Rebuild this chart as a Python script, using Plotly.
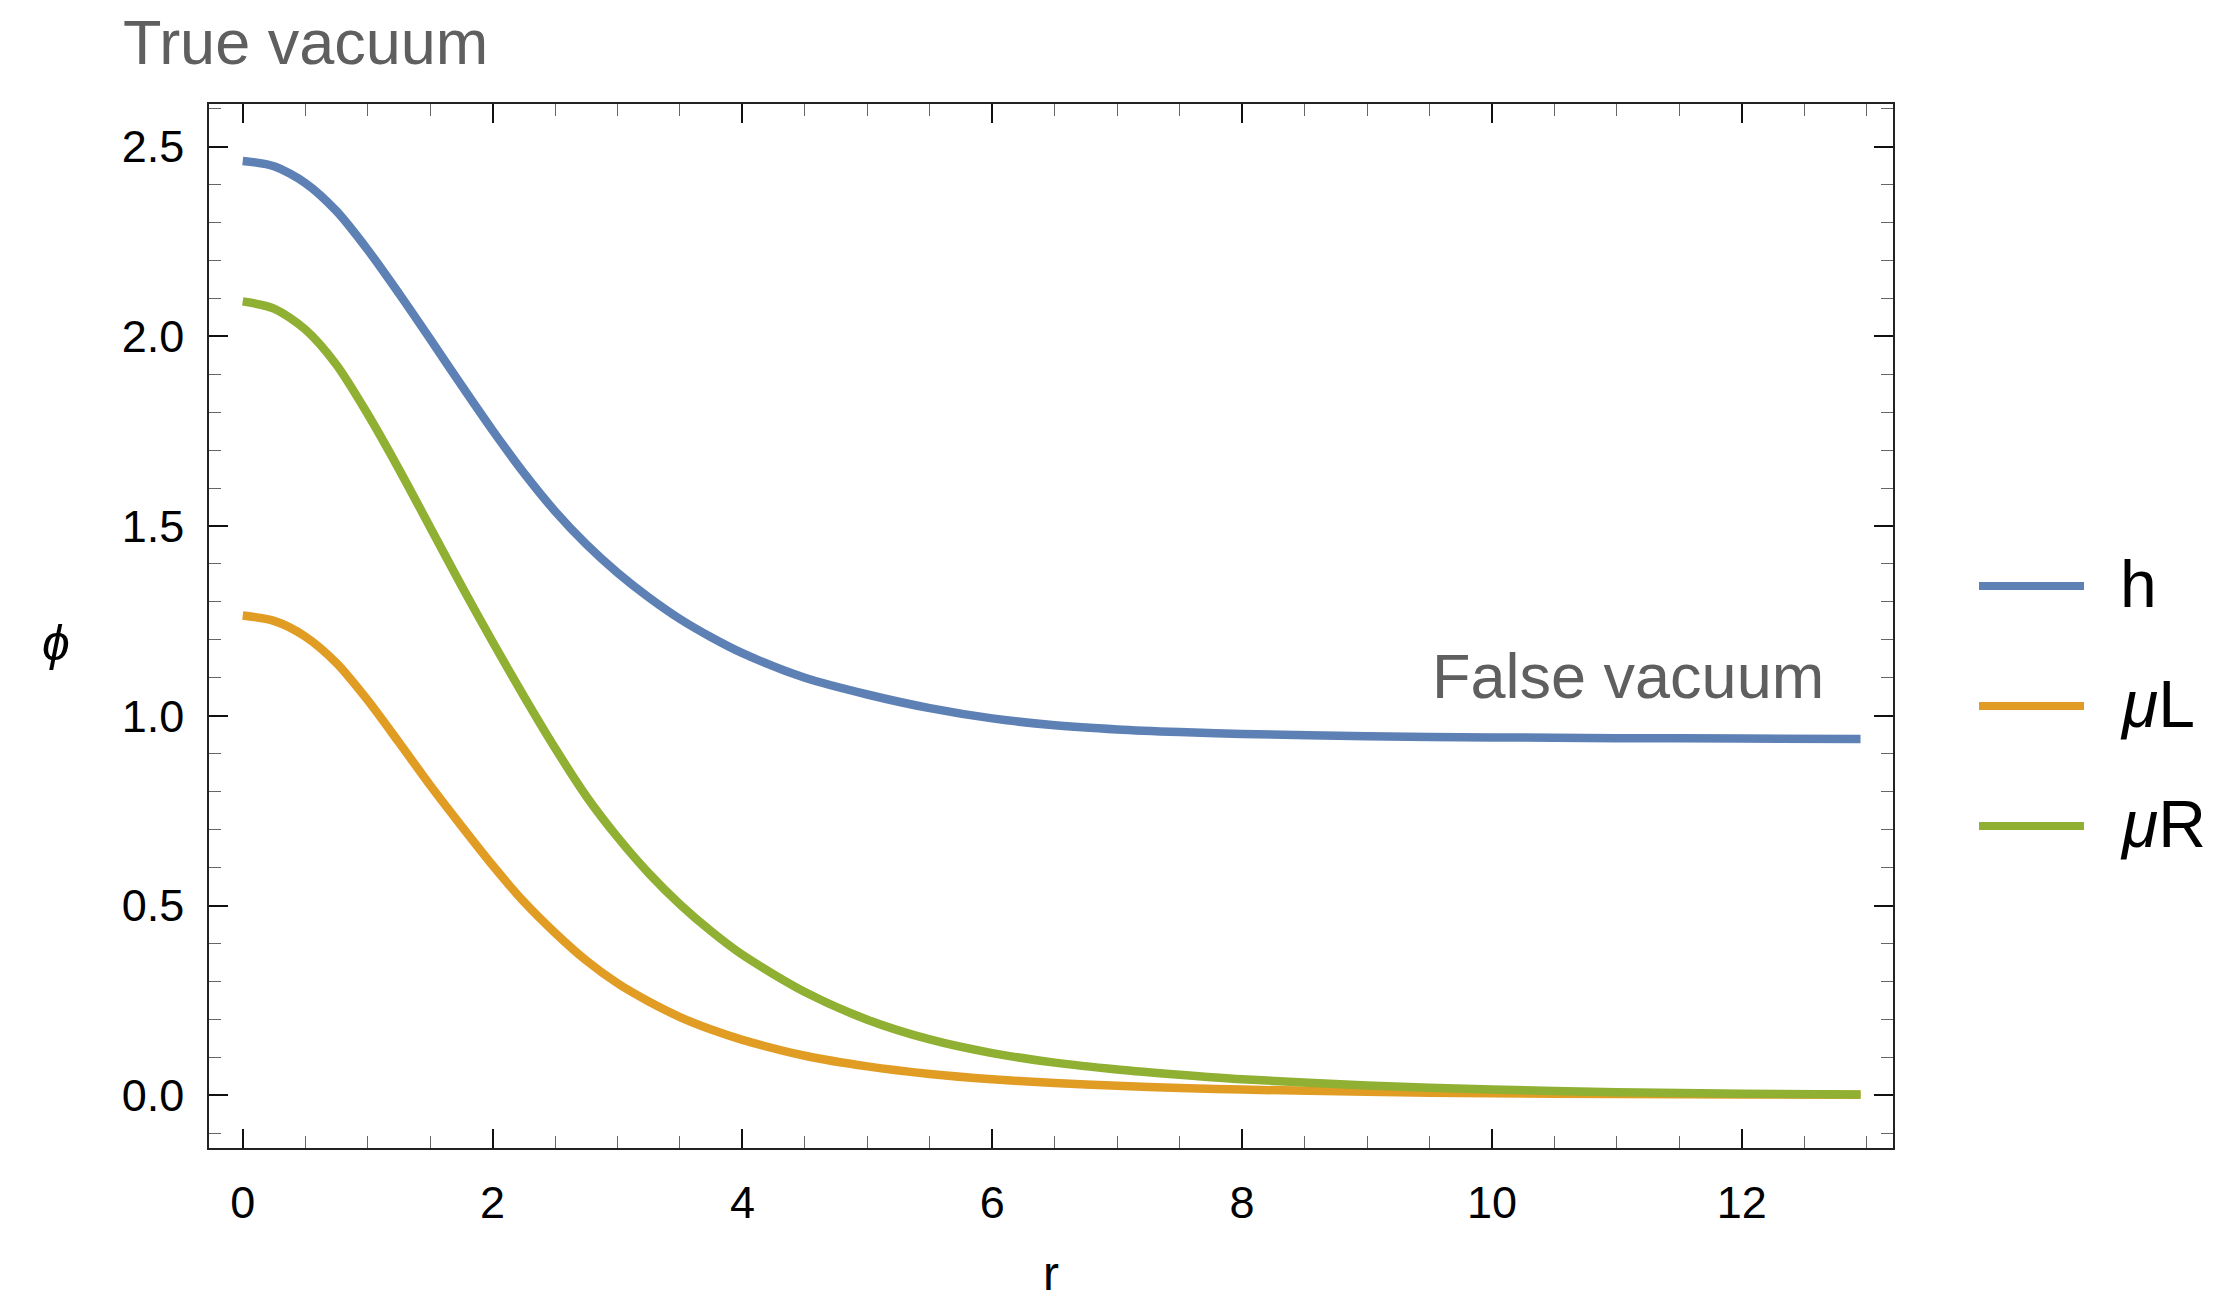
import plotly.graph_objects as go

# ---- data ----
r = [0, 0.25, 0.5, 0.75, 1.0, 1.25, 1.5, 1.75, 2.0, 2.25, 2.5, 2.75, 3.0, 3.25, 3.5, 3.75,
     4.0, 4.5, 5.0, 5.5, 6.0, 6.5, 7.0, 7.5, 8.0, 9.0, 10.0, 11.0, 12.0, 12.95]
h = [2.462, 2.448, 2.404, 2.330, 2.228, 2.113, 1.993, 1.871, 1.752, 1.640, 1.539, 1.452,
     1.377, 1.312, 1.255, 1.207, 1.165, 1.100, 1.056, 1.020, 0.993, 0.975, 0.964, 0.957,
     0.952, 0.946, 0.943, 0.941, 0.940, 0.939]
muL = [1.264, 1.250, 1.209, 1.139, 1.041, 0.930, 0.817, 0.710, 0.606, 0.510, 0.428, 0.355,
       0.295, 0.247, 0.206, 0.173, 0.146, 0.104, 0.076, 0.056, 0.042, 0.032, 0.025, 0.019,
       0.015, 0.009, 0.005, 0.003, 0.002, 0.001]
muR = [2.092, 2.073, 2.018, 1.925, 1.795, 1.650, 1.497, 1.343, 1.195, 1.052, 0.915, 0.788,
       0.680, 0.585, 0.503, 0.432, 0.370, 0.272, 0.199, 0.147, 0.111, 0.086, 0.068, 0.054,
       0.042, 0.026, 0.015, 0.008, 0.004, 0.002]

series_names = ["h", "<i>μ</i>L", "<i>μ</i>R"]
series_values = [h, muL, muR]
series_colors = ["#5E81B5", "#E19C24", "#8FB032"]

x_ticks = [0, 2, 4, 6, 8, 10, 12]
y_ticks = [0.0, 0.5, 1.0, 1.5, 2.0, 2.5]

# ---- layout geometry (pixels) ----
W, H = 2234, 1300
L, R, T, B = 209, 1893, 104, 1148
FONT = "Liberation Sans, Arial, Helvetica, sans-serif"


def px(x):
    return (x - L) / (R - L)


def py(y):
    return (B - y) / (B - T)


fig = go.Figure()
for name, vals, col in zip(series_names, series_values, series_colors):
    fig.add_trace(go.Scatter(x=r, y=vals, mode="lines", name=name,
                             line=dict(color=col, width=8.5, shape="spline", smoothing=0.8),
                             showlegend=False))

axis_common = dict(
    showgrid=False, zeroline=False, showline=True, linecolor="#222", linewidth=1.5,
    mirror="allticks", ticks="inside", ticklen=19, tickwidth=1.5, tickcolor="#111",
    tickfont=dict(family=FONT, size=45, color="#000"), automargin=False,
)

fig.update_xaxes(range=[-0.27, 13.21], tickvals=x_ticks, ticklabelstandoff=14,
                 minor=dict(dtick=0.5, ticks="inside", ticklen=12, tickwidth=1.3, tickcolor="#666"),
                 title=dict(text="r", font=dict(family=FONT, size=48, color="#000"), standoff=40),
                 **axis_common)
fig.update_yaxes(range=[-0.139, 2.612], tickvals=y_ticks, tickformat=".1f", ticklabelstandoff=14,
                 minor=dict(dtick=0.1, ticks="inside", ticklen=12, tickwidth=1.3, tickcolor="#666"),
                 **axis_common)

annotations = [
    dict(text="True vacuum", x=px(121), y=py(42), xref="paper", yref="paper",
         xanchor="left", yanchor="middle", showarrow=False,
         font=dict(family=FONT, size=63, color="#5f5f5f")),
    dict(text="False vacuum", x=px(1826), y=py(676), xref="paper", yref="paper",
         xanchor="right", yanchor="middle", showarrow=False,
         font=dict(family=FONT, size=63, color="#5f5f5f")),
    dict(text="<i>ϕ</i>", x=px(56), y=py(643), xref="paper", yref="paper",
         xanchor="center", yanchor="middle", showarrow=False,
         font=dict(family=FONT, size=50, color="#000")),
]

shapes = []
legend_y = [586, 706, 826]
for name, col, ly in zip(series_names, series_colors, legend_y):
    shapes.append(dict(type="line", xref="paper", yref="paper",
                       x0=px(1979), x1=px(2084), y0=py(ly), y1=py(ly),
                       line=dict(color=col, width=8)))
    annotations.append(dict(text=name, x=px(2118), y=py(ly - 2), xref="paper", yref="paper",
                            xanchor="left", yanchor="middle", showarrow=False,
                            font=dict(family=FONT, size=66, color="#000")))

fig.update_layout(
    width=W, height=H, autosize=False,
    margin=dict(l=L, r=W - R, t=T, b=H - B, pad=0, autoexpand=False),
    plot_bgcolor="white", paper_bgcolor="white",
    annotations=annotations, shapes=shapes,
    showlegend=False,
)

fig.write_html("out.html")
